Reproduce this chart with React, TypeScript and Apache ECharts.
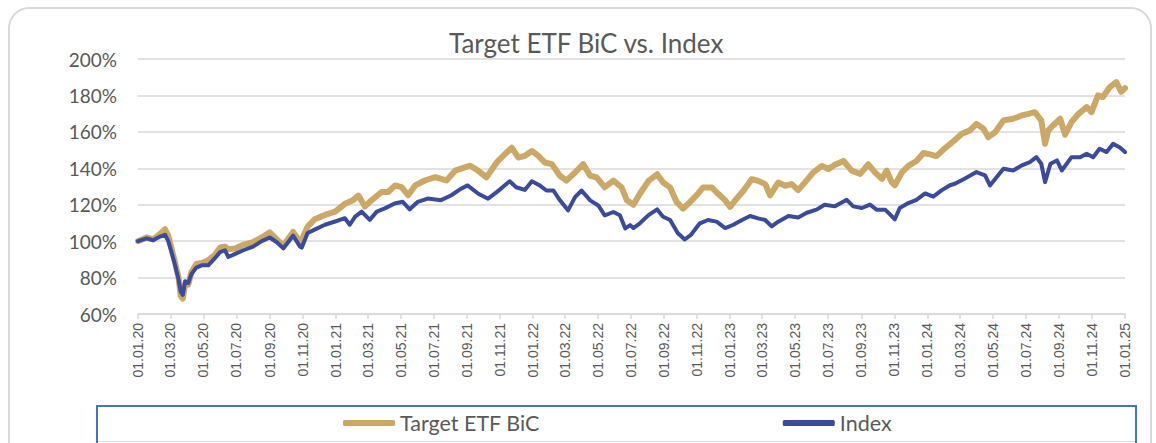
import React, { useEffect, useRef } from "react";
import * as echarts from "echarts";

const TITLE = "Target ETF BiC vs. Index";
const SERIES_NAMES = ["Target ETF BiC", "Index"];
const Y_MIN = 60;
const Y_MAX = 200;
const Y_STEP = 20;

// Target ETF BiC (dates, values in %)
const etfDates = [
  "2020-01-01","2020-01-17","2020-01-29","2020-02-11","2020-02-20","2020-02-26","2020-03-03","2020-03-09",
  "2020-03-16","2020-03-20","2020-03-24","2020-03-28","2020-04-03","2020-04-09","2020-04-18","2020-04-28",
  "2020-05-10","2020-05-22","2020-06-01","2020-06-10","2020-06-16","2020-06-29","2020-07-14","2020-08-01",
  "2020-08-17","2020-09-01","2020-09-14","2020-09-26","2020-10-14","2020-10-27","2020-10-30","2020-11-10",
  "2020-11-23","2020-12-12","2020-12-31","2021-01-18","2021-02-02","2021-02-12","2021-02-24","2021-03-05",
  "2021-03-27","2021-04-08","2021-04-21","2021-05-03","2021-05-15","2021-05-28","2021-06-15","2021-07-04",
  "2021-07-25","2021-08-10","2021-08-28","2021-09-07","2021-09-22","2021-10-07","2021-10-26","2021-11-10",
  "2021-11-23","2021-12-05","2021-12-17","2021-12-30","2022-01-11","2022-01-23","2022-02-05","2022-02-20",
  "2022-03-04","2022-03-20","2022-04-04","2022-04-17","2022-04-29","2022-05-14","2022-05-30","2022-06-14",
  "2022-06-24","2022-07-06","2022-07-18","2022-08-03","2022-08-19","2022-08-30","2022-09-12","2022-09-24",
  "2022-10-06","2022-10-19","2022-10-31","2022-11-12","2022-11-28","2022-12-10","2022-12-23","2023-01-01",
  "2023-01-13","2023-01-26","2023-02-10","2023-02-22","2023-03-07","2023-03-16","2023-03-31","2023-04-13",
  "2023-04-25","2023-05-07","2023-05-20","2023-06-04","2023-06-20","2023-07-02","2023-07-14","2023-07-30",
  "2023-08-14","2023-08-30","2023-09-14","2023-09-26","2023-10-09","2023-10-18","2023-10-27","2023-11-02",
  "2023-11-15","2023-11-27","2023-12-12","2023-12-25","2024-01-06","2024-01-18","2024-02-03","2024-02-18",
  "2024-03-05","2024-03-20","2024-04-01","2024-04-14","2024-04-23","2024-05-06","2024-05-21","2024-06-08",
  "2024-06-24","2024-07-06","2024-07-18","2024-07-30","2024-08-06","2024-08-12","2024-08-21","2024-09-03",
  "2024-09-12","2024-09-24","2024-10-07","2024-10-22","2024-10-31","2024-11-12","2024-11-21","2024-12-04",
  "2024-12-16","2024-12-25","2025-01-01"
];
const etfValues = [
  100, 102, 101, 104, 106.5, 103, 96, 89,
  80, 70, 68.5, 76, 76, 83, 87.5, 88,
  89.5, 92.4, 96.5, 97, 95.5, 96, 98, 99.5,
  102, 104.8, 101, 97.5, 105, 99.5, 100.5, 108,
  112, 114.4, 116.2, 120.5, 122.5, 125, 119, 121.6,
  127, 127, 130.6, 129.7, 125.2, 130.6, 133.3, 135.1,
  133.3, 138.7, 140.5, 141.4, 138.6, 135, 143.2, 147.7,
  151.3, 145.9, 146.8, 149.5, 146.8, 143.2, 142.3, 135.9,
  133.2, 137.7, 142.3, 135.9, 135, 129.6, 133.2, 129.6,
  122.4, 120, 126, 133.1, 136.7, 132.2, 129.5, 121.5,
  117.9, 121.5, 125.1, 129.5, 129.5, 126, 122.4, 118.8,
  123.3, 127.8, 134, 133.1, 131.3, 125.1, 132.2, 130.4,
  131.3, 128, 132.4, 137.8, 141.3, 139.6, 141.9, 144,
  138.7, 136.9, 142.2, 137.8, 134.2, 138.7, 132.4, 130.7,
  137.8, 141.3, 144, 148.4, 147.6, 146.7, 151.1, 154.7,
  159, 160.8, 164.4, 161.7, 157.1, 159.9, 166.3, 167.2,
  169, 169.9, 170.8, 166.3, 153.5, 160.8, 163.5, 167.2,
  158.5, 165.4, 169.9, 173.6, 170.8, 180, 179.1, 184.6,
  187.3, 182, 184
];

// Index (dates, values in %)
const indexDates = [
  "2020-01-01","2020-01-17","2020-01-29","2020-02-11","2020-02-20","2020-02-26","2020-03-03","2020-03-09",
  "2020-03-16","2020-03-20","2020-03-24","2020-03-28","2020-04-03","2020-04-09","2020-04-18","2020-04-28",
  "2020-05-10","2020-05-22","2020-06-01","2020-06-10","2020-06-16","2020-06-29","2020-07-14","2020-08-01",
  "2020-08-17","2020-09-01","2020-09-14","2020-09-26","2020-10-14","2020-10-27","2020-10-30","2020-11-10",
  "2020-11-23","2020-12-12","2020-12-31","2021-01-18","2021-01-27","2021-02-06","2021-02-18","2021-03-05",
  "2021-03-18","2021-04-02","2021-04-20","2021-05-05","2021-05-18","2021-06-02","2021-06-20","2021-07-15",
  "2021-08-03","2021-08-21","2021-09-02","2021-09-22","2021-10-10","2021-10-26","2021-11-19","2021-12-01",
  "2021-12-17","2021-12-30","2022-01-14","2022-01-26","2022-02-08","2022-02-20","2022-03-07","2022-03-20",
  "2022-04-01","2022-04-17","2022-05-02","2022-05-14","2022-05-30","2022-06-11","2022-06-21","2022-06-30",
  "2022-07-06","2022-07-18","2022-08-03","2022-08-19","2022-08-30","2022-09-12","2022-09-26","2022-10-09",
  "2022-10-21","2022-11-06","2022-11-21","2022-12-07","2022-12-23","2023-01-07","2023-01-23","2023-02-07",
  "2023-02-22","2023-03-07","2023-03-19","2023-03-31","2023-04-19","2023-05-07","2023-05-23","2023-06-10",
  "2023-06-25","2023-07-14","2023-08-05","2023-08-17","2023-09-02","2023-09-17","2023-09-29","2023-10-15",
  "2023-10-24","2023-11-02","2023-11-11","2023-11-27","2023-12-12","2023-12-28","2024-01-12","2024-01-28",
  "2024-02-12","2024-02-21","2024-03-10","2024-04-01","2024-04-17","2024-04-26","2024-05-06","2024-05-21",
  "2024-06-08","2024-06-24","2024-07-09","2024-07-21","2024-07-30","2024-08-06","2024-08-16","2024-08-28",
  "2024-09-06","2024-09-24","2024-10-10","2024-10-22","2024-11-03","2024-11-15","2024-11-28","2024-12-10",
  "2024-12-22","2025-01-01"
];
const indexValues = [
  100, 101.5, 100.5, 102.5, 103.5, 100, 94, 87.6,
  79, 72.4, 70.5, 78, 77, 82, 85.5, 86.7,
  86.7, 90.5, 94, 95, 91.3, 93, 95, 97,
  100, 102, 99.4, 96, 103, 97, 96.4, 104.5,
  106.3, 109, 110.8, 112.6, 109, 113.5, 116.2, 111.7,
  116.2, 118, 120.7, 121.6, 117.5, 121.6, 123.4, 122.5,
  125.2, 128.8, 130.6, 126, 123.3, 126.9, 132.9, 129.6,
  128.1, 132.9, 130.5, 127.8, 127.8, 122.4, 116.9, 124.2,
  127.8, 122.4, 119.6, 114.2, 116, 114.2, 107, 108.8,
  107.2, 109.8, 114.3, 117.4, 113.4, 111.6, 104.5, 100.9,
  103.6, 109.8, 111.6, 110.7, 107.2, 109, 111.6, 113.8,
  112.5, 111.6, 108.1, 110.7, 113.8, 113, 115.6, 117.3,
  120, 119.1, 122.7, 119.1, 118.2, 120, 117.3, 117.3,
  114.7, 112, 118.2, 120.9, 122.7, 126.2, 124.4, 128,
  130.7, 131.5, 134.3, 137.9, 136.1, 130.6, 134.3, 139.7,
  138.8, 141.6, 143.4, 146.1, 142.5, 132.4, 142.5, 144.3,
  138.8, 146.1, 146.1, 148, 146.1, 150.7, 148.9, 153.5,
  151.6, 148.9
];

const X_START = "2020-01-01";
const X_END = "2025-01-01";
const TICK_MONTH_STEP = 2;

const GOLD = "#CBA866";
const BLUE = "#3B4A9A";
const TEXT = "#595959";
const GRID = "#D9D9D9";

function ts(d: string): number {
  return new Date(d + "T00:00:00Z").getTime();
}

function buildTicks(): number[] {
  const out: number[] = [];
  const s = new Date(X_START + "T00:00:00Z");
  const end = ts(X_END);
  let y = s.getUTCFullYear();
  let m = s.getUTCMonth();
  while (true) {
    const t = Date.UTC(y, m, 1);
    if (t > end) break;
    out.push(t);
    m += TICK_MONTH_STEP;
    if (m >= 12) { m -= 12; y += 1; }
  }
  return out;
}

function fmtDate(v: number): string {
  const d = new Date(v);
  const dd = String(d.getUTCDate()).padStart(2, "0");
  const mm = String(d.getUTCMonth() + 1).padStart(2, "0");
  const yy = String(d.getUTCFullYear() % 100).padStart(2, "0");
  return `${dd}.${mm}.${yy}`;
}

export default function App() {
  const ref = useRef<HTMLDivElement>(null);

  useEffect(() => {
    if (!ref.current) return;
    const chart = echarts.init(ref.current, undefined, { renderer: "svg" });
    const ticks = buildTicks();
    const option: any = {
      animation: false,
      backgroundColor: "#ffffff",
      title: {
        text: TITLE,
        left: 449,
        top: 30,
        padding: 0,
        textStyle: { fontFamily: "Lato", fontSize: 26, fontWeight: "normal", color: TEXT },
      },
      grid: { left: 138, right: 31, top: 59, bottom: 129 },
      legend: {
        data: SERIES_NAMES,
        left: 343,
        top: 412,
        padding: 0,
        itemGap: 243,
        itemWidth: 52,
        itemHeight: 6,
        icon: "roundRect",
        textStyle: { fontFamily: "Lato", fontSize: 21.5, color: TEXT },
        selectedMode: false,
      },
      xAxis: {
        type: "value",
        min: ts(X_START),
        max: ts(X_END),
        axisLine: { show: true, lineStyle: { color: GRID, width: 1.5 } },
        axisTick: { show: true, customValues: ticks, length: 5, lineStyle: { color: GRID, width: 1.5 } },
        axisLabel: {
          customValues: ticks,
          rotate: 90,
          margin: 9,
          formatter: (v: number) => fmtDate(v),
          fontFamily: "Liberation Sans",
          fontSize: 14,
          color: TEXT,
        },
        splitLine: { show: false },
      },
      yAxis: {
        type: "value",
        min: Y_MIN,
        max: Y_MAX,
        interval: Y_STEP,
        axisLine: { show: false },
        axisTick: { show: false },
        axisLabel: {
          formatter: "{value}%",
          fontFamily: "Lato",
          fontSize: 19,
          color: TEXT,
          margin: 21,
        },
        splitLine: { show: true, lineStyle: { color: GRID, width: 1.5 } },
      },
      series: [
        {
          name: SERIES_NAMES[0],
          type: "line",
          showSymbol: false,
          color: GOLD,
          lineStyle: { color: GOLD, width: 6, cap: "round", join: "round" },
          data: etfDates.map((d, i) => [ts(d), etfValues[i]]),
        },
        {
          name: SERIES_NAMES[1],
          type: "line",
          showSymbol: false,
          color: BLUE,
          lineStyle: { color: BLUE, width: 4, cap: "round", join: "round" },
          data: indexDates.map((d, i) => [ts(d), indexValues[i]]),
        },
      ],
      graphic: [
        {
          type: "rect",
          silent: true,
          shape: { x: 9, y: 8, width: 1142, height: 480, r: 20 },
          style: { fill: "none", stroke: "#D9D9D9", lineWidth: 2 },
        },
        {
          type: "rect",
          silent: true,
          shape: { x: 97, y: 406, width: 1039, height: 60 },
          style: { fill: "none", stroke: "#4472C4", lineWidth: 2 },
        },
        {
          type: "line",
          silent: true,
          shape: { x1: 98, y1: 441.5, x2: 1135, y2: 441.5 },
          style: { stroke: "#D6E0F5", lineWidth: 1 },
        },
      ],
    };
    chart.setOption(option);
    return () => chart.dispose();
  }, []);

  return (
    <div
      ref={ref}
      style={{ position: "fixed", left: 0, top: 0, width: 1156, height: 443 }}
    />
  );
}
